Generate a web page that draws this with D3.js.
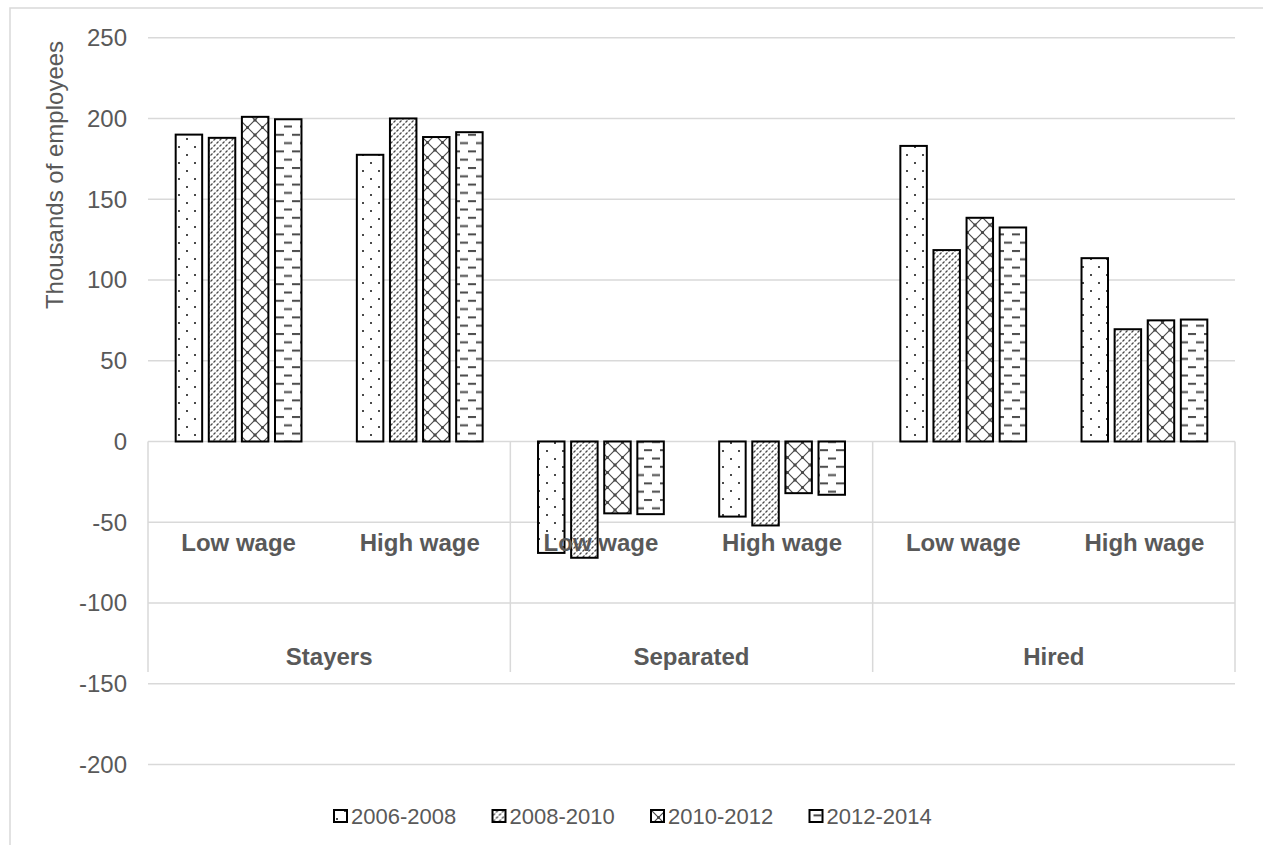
<!DOCTYPE html>
<html><head><meta charset="utf-8">
<script src="https://cdn.jsdelivr.net/npm/d3@7"></script>
<style>
html,body{margin:0;padding:0;background:#fff;}
text{font-family:"Liberation Sans",Arial,sans-serif;fill:#595959;}
</style></head>
<body>
<svg id="chart" width="1263" height="845"></svg>
<script>
const groups = ["Stayers", "Separated", "Hired"];
const wages = ["Low wage", "High wage"];
const seriesNames = ["2006-2008", "2008-2010", "2010-2012", "2012-2014"];
const s2006_2008 = [190, 177.5, -69, -46.5, 183, 113.5];
const s2008_2010 = [188, 200, -72, -52, 118.5, 69.5];
const s2010_2012 = [201, 188.5, -44.5, -32, 138.5, 75];
const s2012_2014 = [199.5, 191.5, -45, -33, 132.5, 75.5];
const yTicks = [250, 200, 150, 100, 50, 0, -50, -100, -150, -200];
const yTitle = "Thousands of employees";

const seriesValues = [s2006_2008, s2008_2010, s2010_2012, s2012_2014];
const cats = [];
groups.forEach(g => wages.forEach(w => cats.push(g + "|" + w)));

const svg = d3.select("#chart");
const L = 148, R = 1235, T = 37.7, B = 764.5;
const grid = "#d9d9d9";

// border
svg.append("rect").attr("x", 10).attr("y", 8).attr("width", 1270).attr("height", 860)
  .attr("fill", "none").attr("stroke", grid).attr("stroke-width", 1.5);

const y = d3.scaleLinear().domain([-200, 250]).range([B, T]);
const x = d3.scaleBand().domain(cats).range([L, R]).padding(0);
const xg = d3.scaleBand().domain(groups).range([L, R]).padding(0);
const inner = d3.scaleBand().domain(seriesNames).range([0, 125.8]).paddingInner(0.2).paddingOuter(0);

// patterns
const defs = svg.append("defs");
const pc = "#4a4a4a";
function pat(id, w, h) {
  const p = defs.append("pattern").attr("id", id).attr("patternUnits", "userSpaceOnUse")
    .attr("width", w).attr("height", h);
  p.append("rect").attr("width", w).attr("height", h).attr("fill", "#fff");
  return p;
}
let p = pat("p0", 16, 16);
p.append("rect").attr("x", 2).attr("y", 2).attr("width", 2).attr("height", 2).attr("fill", pc);
p.append("rect").attr("x", 10).attr("y", 10).attr("width", 2).attr("height", 2).attr("fill", pc);

p = pat("p1", 6, 6);
p.append("path").attr("d", "M0.5,5.5 L2.5,3.5 M3.5,2.5 L5.5,0.5").attr("stroke", pc).attr("stroke-width", 1.2);

p = pat("p2", 15, 15);
p.append("path").attr("d", "M0,0 L15,15 M15,0 L0,15").attr("stroke", pc).attr("stroke-width", 1.2);
p.append("rect").attr("x", 6).attr("y", 6).attr("width", 3).attr("height", 3).attr("fill", pc);
[[0,0],[15,0],[0,15],[15,15]].forEach(([cx, cy]) =>
  p.append("rect").attr("x", cx - 1.5).attr("y", cy - 1.5).attr("width", 3).attr("height", 3).attr("fill", pc));

p = pat("p3", 16, 16.6);
p.append("rect").attr("x", 4).attr("y", 1).attr("width", 8).attr("height", 2).attr("fill", pc);
p.append("rect").attr("x", 12).attr("y", 9.3).attr("width", 4).attr("height", 2).attr("fill", pc);
p.append("rect").attr("x", 0).attr("y", 9.3).attr("width", 4).attr("height", 2).attr("fill", pc);

// gridlines
svg.append("g").selectAll("line").data(yTicks).join("line")
  .attr("x1", L).attr("x2", R).attr("y1", d => y(d)).attr("y2", d => y(d))
  .attr("stroke", grid).attr("stroke-width", 1.5);

// category dividers
const divBottom = 672;
const divX = [L].concat(groups.map(g => xg(g) + xg.bandwidth()));
svg.append("g").selectAll("line").data(divX).join("line")
  .attr("x1", d => d).attr("x2", d => d).attr("y1", y(0)).attr("y2", divBottom)
  .attr("stroke", grid).attr("stroke-width", 1.5);

// y tick labels
svg.append("g").selectAll("text").data(yTicks).join("text")
  .attr("x", 127).attr("y", d => y(d)).attr("dy", "0.35em").attr("text-anchor", "end")
  .style("font-size", "24px").text(d => d);

// y title
svg.append("text").attr("transform", "translate(63,175) rotate(-90)")
  .attr("text-anchor", "middle").style("font-size", "24px").text(yTitle);

// bars
seriesNames.forEach((s, j) => {
  svg.append("g").selectAll("rect").data(seriesValues[j]).join("rect")
    .attr("x", (d, i) => x(cats[i]) + x.bandwidth() / 2 - 62.9 + inner(s))
    .attr("width", inner.bandwidth())
    .attr("y", d => Math.min(y(d), y(0)))
    .attr("height", d => Math.abs(y(d) - y(0)))
    .attr("fill", "url(#p" + j + ")").attr("stroke", "#000").attr("stroke-width", 2);
});

// category labels
svg.append("g").selectAll("text").data(cats).join("text")
  .attr("x", d => x(d) + x.bandwidth() / 2).attr("y", 551).attr("text-anchor", "middle")
  .style("font-size", "24px").style("font-weight", "bold").text(d => d.split("|")[1]);
svg.append("g").selectAll("text").data(groups).join("text")
  .attr("x", d => xg(d) + xg.bandwidth() / 2).attr("y", 665).attr("text-anchor", "middle")
  .style("font-size", "24px").style("font-weight", "bold").text(d => d);

// legend
const lg = svg.append("g");
const lx = d3.scaleBand().domain(seriesNames).range([334, 968]);
seriesNames.forEach((s, j) => {
  const g = lg.append("g").attr("transform", "translate(" + lx(s) + ",0)");
  g.append("rect").attr("x", 0).attr("y", 810).attr("width", 13).attr("height", 12)
    .attr("fill", "url(#p" + j + ")").attr("stroke", "#000").attr("stroke-width", 2);
  g.append("text").attr("x", 17).attr("y", 824).style("font-size", "22px").text(s);
});
</script>
</body></html>
